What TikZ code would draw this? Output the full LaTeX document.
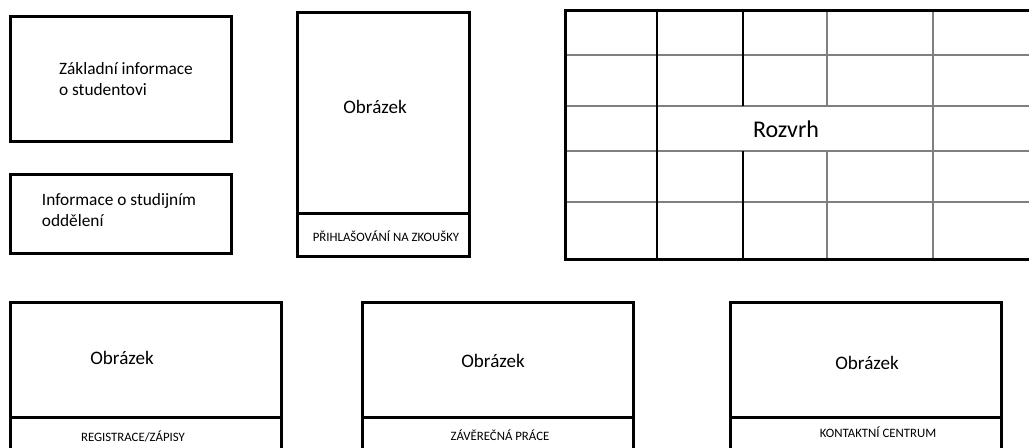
\documentclass[tikz,border=0pt]{standalone}
\usepackage{fontspec}
\setmainfont{Carlito}
\usetikzlibrary{positioning}

\begin{document}
\begin{tikzpicture}[x=0.75pt, y=-0.75pt,
  box/.style={draw, line width=2.2pt, inner sep=0pt, outer sep=0pt, anchor=north west},
  card/.style={box, minimum width=203pt, minimum height=86.25pt},
  cardlbl/.style={draw, line width=2.2pt, inner sep=0pt, outer sep=0pt, minimum height=33.75pt, below=0pt of #1},
  txt/.style={font=\fontsize{13}{16}\selectfont, align=left},
  pic/.style={font=\fontsize{14.3}{17}\selectfont},
  lbl/.style={font=\fontsize{9.6}{11}\selectfont},
  cell/.style={line width=0.8pt}
]
\useasboundingbox (0,0) rectangle (1029,448);

% left column
\node[box, minimum width=166pt, minimum height=94pt] (zakladni) at (10.5,16.5) {};
\node[txt] at (126,79) {Základní informace\\o studentovi};
\node[box, minimum width=165.5pt, minimum height=59pt] (oddeleni) at (10.5,174.5) {};
\node[txt] at (119,210) {Informace o studijním\\oddělení};

% exam card
\node[box, minimum width=129pt, minimum height=150.75pt] (zkousky) at (297.5,12.5) {};
\node[draw, line width=2.2pt, inner sep=0pt, outer sep=0pt, minimum width=129pt, minimum height=32pt,
      below=0pt of zkousky] (zkouskylbl) {};
\node[pic] at (375,107) {Obrázek};
\node[lbl] at (386,236) {PŘIHLAŠOVÁNÍ NA ZKOUŠKY};

% timetable
\foreach \gy in {55,106,151,202}
  \draw[cell, gray] (565,\gy) -- (1035,\gy);
\foreach \gx/\gc in {657/black, 933/gray}
  \draw[cell, \gc] (\gx,10) -- (\gx,260);
\foreach \gx/\gc in {743/black, 827/gray} {
  \draw[cell, \gc] (\gx,10) -- (\gx,106);
  \draw[cell, \gc] (\gx,151) -- (\gx,260);
}
\node[box, minimum width=352.5pt, minimum height=187pt] (rozvrh) at (565.5,10.5) {};
\node[font=\fontsize{18}{21}\selectfont] at (786,129) {Rozvrh};

% bottom cards
\node[card] (registrace) at (10.5,302.5) {};
\node[cardlbl=registrace, minimum width=203pt] (registracelbl) {};
\node[pic] at (122,358) {Obrázek};
\node[lbl] at (133,436) {REGISTRACE/ZÁPISY};

\node[card] (prace) at (362.5,302.5) {};
\node[cardlbl=prace, minimum width=203pt] (pracelbl) {};
\node[pic] at (493,361) {Obrázek};
\node[lbl] at (500,435) {ZÁVĚREČNÁ PRÁCE};

\node[card] (kontakt) at (730.5,302.5) {};
\node[cardlbl=kontakt, minimum width=203pt] (kontaktlbl) {};
\node[pic] at (867,363) {Obrázek};
\node[lbl] at (878,432) {KONTAKTNÍ CENTRUM};
\end{tikzpicture}
\end{document}
